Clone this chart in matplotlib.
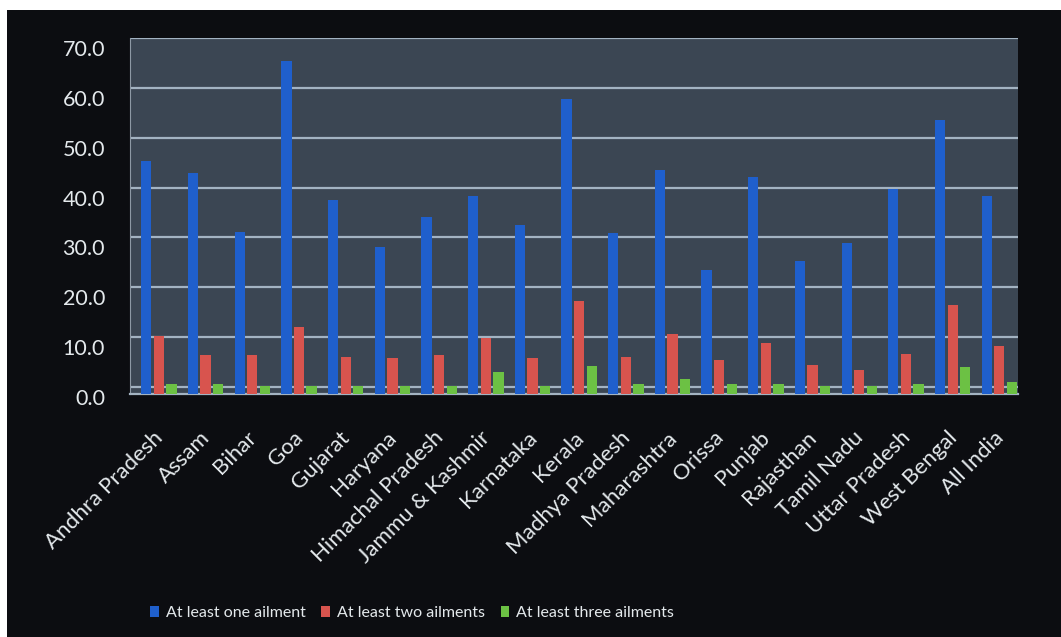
import numpy as np
import matplotlib.pyplot as plt
from matplotlib.patches import Rectangle
from matplotlib.transforms import ScaledTranslation

plt.rcParams['font.family'] = ['Lato', 'DejaVu Sans']

# data
states = ["Andhra Pradesh", "Assam", "Bihar", "Goa", "Gujarat", "Haryana",
          "Himachal Pradesh", "Jammu & Kashmir", "Karnataka", "Kerala",
          "Madhya Pradesh", "Maharashtra", "Orissa", "Punjab", "Rajasthan",
          "Tamil Nadu", "Uttar Pradesh", "West Bengal", "All India"]
one_ailment = [45.3, 43.0, 31.0, 65.3, 37.6, 28.0, 34.0, 38.4, 32.5, 57.8,
               30.8, 43.6, 23.5, 42.1, 25.2, 28.8, 39.8, 53.5, 38.3]
two_ailments = [10.3, 6.4, 6.4, 12.1, 6.1, 5.8, 6.4, 9.9, 5.8, 17.2,
                6.1, 10.6, 5.4, 8.8, 4.4, 3.4, 6.6, 16.5, 8.3]
three_ailments = [0.7, 0.7, 0.3, 0.3, 0.3, 0.3, 0.2, 3.0, 0.3, 4.3,
                  0.7, 1.6, 0.7, 0.7, 0.3, 0.2, 0.6, 4.0, 1.1]
series_names = ["At least one ailment", "At least two ailments", "At least three ailments"]
colors = ["#1f5fcc", "#d8544e", "#6cc144"]
yticks = [0, 10, 20, 30, 40, 50, 60, 70]

fig = plt.figure(figsize=(10.61, 6.37), dpi=100, facecolor="#0c0d11")
# white scanner margin at top and left
fig.patches.append(Rectangle((0, 1 - 10 / 637), 1, 10 / 637, transform=fig.transFigure,
                             facecolor="white", edgecolor="none", zorder=0))
fig.patches.append(Rectangle((0, 0), 7 / 1061, 1, transform=fig.transFigure,
                             facecolor="white", edgecolor="none", zorder=0))

ax = fig.add_axes([130 / 1061, 1 - 394 / 637, 888 / 1061, 356 / 637])
ax.set_facecolor("#3b4653")

# the floor of the 3-D original sits a bit below the 0 gridline
floor = -1.4
x = np.arange(len(states))
w = 0.22
off = 0.27
for k, vals in enumerate([one_ailment, two_ailments, three_ailments]):
    ax.bar(x + (k - 1) * off, np.array(vals) - floor, bottom=floor, width=w,
           color=colors[k], label=series_names[k], zorder=3)

ax.set_ylim(floor, 70)
ax.set_xlim(-0.62, 18.4)
ax.set_yticks(yticks)
ax.set_yticklabels([f"{v:.1f}" for v in yticks])
ax.grid(axis="y", color="#a3b3c2", linewidth=1.6, zorder=1)
ax.set_axisbelow(True)
ax.tick_params(axis="y", length=0, pad=18, labelsize=15.5, labelcolor="#e4e9ec")
# labels sit a little lower than the gridlines (3-D look of the original)
shift = ScaledTranslation(0, -10 / 100, fig.dpi_scale_trans)
for lab in ax.get_yticklabels():
    lab.set_transform(lab.get_transform() + shift)

ax.set_xticks(x)
ax.set_xticklabels(states, rotation=45, ha="right", rotation_mode="anchor")
ax.tick_params(axis="x", length=0, pad=24, labelsize=16, labelcolor="#e4e9ec")
xshift = ScaledTranslation(-6 / 100, 0, fig.dpi_scale_trans)
for lab in ax.get_xticklabels():
    lab.set_transform(lab.get_transform() + xshift)
for s in ["top", "right"]:
    ax.spines[s].set_visible(False)
ax.spines["left"].set_color("#8d99a5")
ax.spines["bottom"].set_color("#a3b3c2")
ax.spines["bottom"].set_linewidth(1.6)

fig.legend(loc="center", bbox_to_anchor=(412 / 1061, 1 - 613 / 637), ncol=3,
           frameon=False, fontsize=11.5, labelcolor="#e4e9ec", handlelength=0.55,
           handleheight=0.7, handletextpad=0.4, columnspacing=1.0)

fig.savefig("out.png", dpi=100, facecolor=fig.get_facecolor())
